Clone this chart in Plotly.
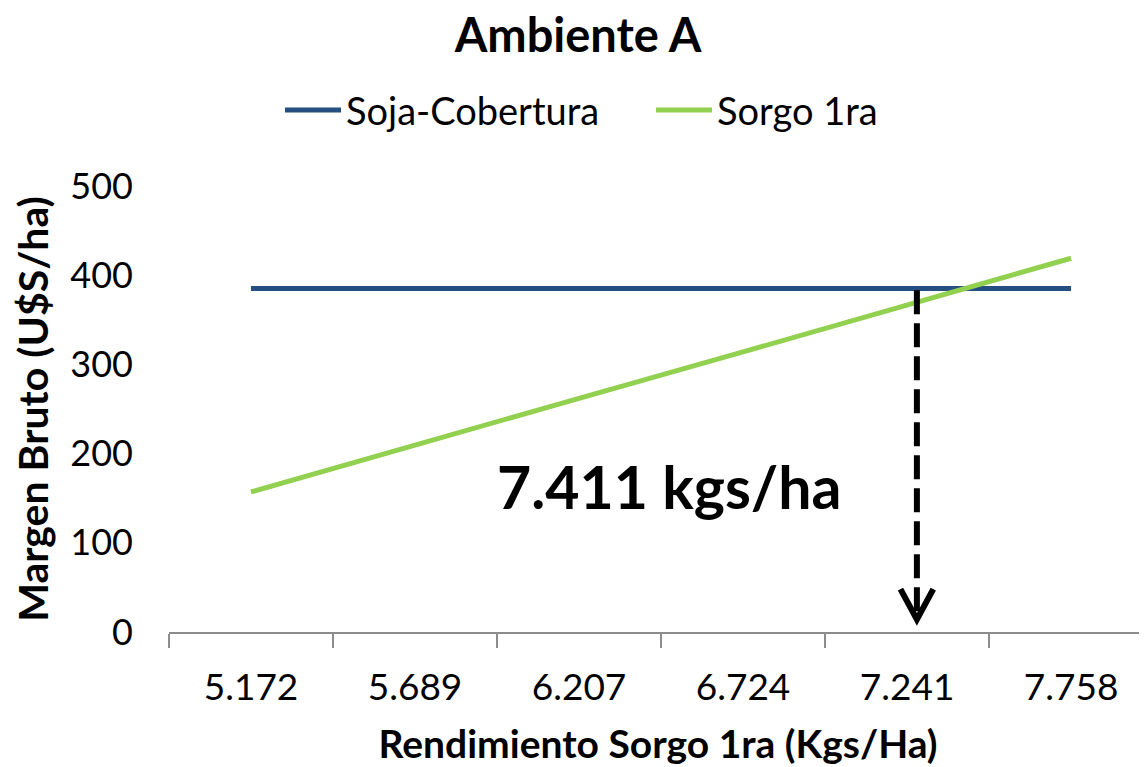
import plotly.graph_objects as go

categories = ["5.172", "5.689", "6.207", "6.724", "7.241", "7.758"]
soja_cobertura = [385, 385, 385, 385, 385, 385]
sorgo_1ra = [157, 210, 262, 314, 367, 419]

arrow_x = 4.06          # position of the dashed arrow (category index units)
arrow_top = 383
arrow_bottom = 14
label_text = "7.411 kgs/ha"

FONT = "Lato"
BLUE = "#254F80"
GREEN = "#92D050"

fig = go.Figure()
fig.add_trace(go.Scatter(x=categories, y=soja_cobertura, mode="lines", name="Soja-Cobertura",
                         line=dict(color=BLUE, width=5)))
fig.add_trace(go.Scatter(x=categories, y=sorgo_1ra, mode="lines", name="Sorgo 1ra",
                         line=dict(color=GREEN, width=5)))

# dashed vertical line
fig.add_shape(type="line", xref="x", yref="y", x0=arrow_x, x1=arrow_x, y0=arrow_top, y1=arrow_bottom + 8,
              line=dict(color="black", width=6, dash="24px,9px"))
# open V arrowhead
fig.add_shape(type="path", xref="x", yref="y",
              path=f"M {arrow_x - 0.1},{arrow_bottom + 34} L {arrow_x},{arrow_bottom} L {arrow_x + 0.1},{arrow_bottom + 34}",
              line=dict(color="black", width=6))

fig.add_annotation(x=2.55, y=163, xref="x", yref="y", text=f"<b>{label_text}</b>", showarrow=False,
                   font=dict(family=FONT, size=59, color="black"))

fig.update_layout(
    width=1147, height=767,
    paper_bgcolor="white", plot_bgcolor="white",
    margin=dict(l=161, r=8, t=178, b=143, autoexpand=False),
    title=dict(text="<b>Ambiente A</b>", x=0.497, xanchor="center", y=0.964, yanchor="middle",
               font=dict(family=FONT, size=47, color="black")),
    legend=dict(orientation="h", x=0.1135, xanchor="left", y=1.17, yanchor="middle",
                font=dict(family=FONT, size=38, color="black"), itemwidth=56, tracegroupgap=0,
                entrywidth=300),
    font=dict(family=FONT, color="black"),
    showlegend=True,
)
fig.update_xaxes(type="category", range=[-0.5, 5.463], showline=True, linecolor="#8C8C8C", linewidth=2,
                 ticks="outside", tickson="boundaries", ticklen=14, tickcolor="#8C8C8C", tickwidth=2,
                 showgrid=False, zeroline=False, automargin=False,
                 tickfont=dict(family=FONT, size=37, color="black"), ticklabelstandoff=22,
                 title=dict(text="<b>Rendimiento Sorgo 1ra (Kgs/Ha)</b>", font=dict(family=FONT, size=39, color="black"),
                            standoff=23))
fig.update_yaxes(range=[0, 500], tickvals=[0, 100, 200, 300, 400, 500], showline=False, showgrid=False,
                 zeroline=False, ticks="", tickfont=dict(family=FONT, size=36, color="black"),
                 ticklabelstandoff=35, automargin=False,
                 title=dict(text="<b>Margen Bruto (U$S/ha)</b>", font=dict(family=FONT, size=41, color="black"),
                            standoff=14))

fig.write_html("out.html")
